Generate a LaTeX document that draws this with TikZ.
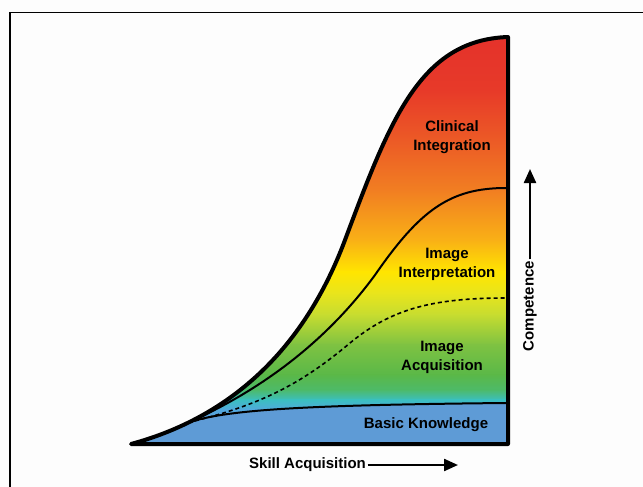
\documentclass[tikz,border=0pt]{standalone}
\usepackage{fontspec}
\setmainfont{Liberation Sans}
\usetikzlibrary{arrows.meta}
\definecolor{bgc}{HTML}{FDFDFD}
\definecolor{gA}{HTML}{E4312B}
\definecolor{gB}{HTML}{E73A29}
\definecolor{gC}{HTML}{EC5A26}
\definecolor{gD}{HTML}{F17E22}
\definecolor{gE}{HTML}{F9B016}
\definecolor{gF}{HTML}{FFE500}
\definecolor{gG}{HTML}{E9E51C}
\definecolor{gH}{HTML}{C6DC30}
\definecolor{gI}{HTML}{7EC242}
\definecolor{gJ}{HTML}{5AB848}
\definecolor{gK}{HTML}{4DBA6A}
\definecolor{gL}{HTML}{3BBFC0}
\definecolor{gM}{HTML}{52A8DE}
\definecolor{basic}{HTML}{5E9BD6}
\tikzset{
  lbl/.style={font=\fontsize{15}{19}\selectfont\bfseries, align=center, text=black, inner sep=1.5pt},
  outerline/.style={line width=4pt, line join=round},
  innerline/.style={line width=2pt},
  dashline/.style={line width=1.6pt, dash pattern=on 4pt off 3pt},
  axisarrow/.style={line width=2.3pt, -{Triangle[length=14pt,width=12pt]}},
  band/.style={draw=none}
}
\begin{document}
\begin{tikzpicture}[x=1pt,y=-1pt]
\useasboundingbox (0,0) rectangle (643,487);
\fill[bgc] (0,0) rectangle (643,487);
\draw[line width=1.5pt] (10,487) -- (10,12.5) -- (643,12.5);

\coordinate (C) at (188.3,422.6);

\begin{scope}
\clip (131,444) .. controls (220,420) and (300,360) .. (345,240)
      .. controls (390,120) and (420,40) .. (508,37) -- (508,444) -- cycle;
\foreach \ya/\yb/\ca/\cb in {30/90/gA/gB, 90/140/gB/gC, 140/190/gC/gD, 190/240/gD/gE,
   240/272/gE/gF, 272/293/gF/gG, 293/315/gG/gH, 315/345/gH/gI, 345/375/gI/gJ,
   375/390/gJ/gK, 390/400/gK/gL, 400/410/gL/gM, 410/420/gM/basic}
  \shade[band, top color=\ca, bottom color=\cb] (120,\ya-0.3) rectangle (520,\yb+0.3);
\fill[basic] (120,419.7) rectangle (520,450);
\fill[basic] (C) .. controls (225,410) and (300,405) .. (506,403) -- (520,403)
   -- (520,450) -- (120,450) -- (120,422.6) -- cycle;
\end{scope}

\draw[innerline] (C) .. controls (225,410) and (300,405) .. (506,403);
\draw[dashline] (C) .. controls (260,405) and (300,385) .. (350,343)
   .. controls (390,310) and (430,298) .. (506,298);
\draw[innerline] (C) .. controls (250,395) and (320,350) .. (375,275)
   .. controls (420,210) and (450,188) .. (506,188);

\draw[outerline] (131,444) .. controls (220,420) and (300,360) .. (345,240)
      .. controls (390,120) and (420,40) .. (508,37) -- (508,444) -- cycle;

\node[lbl] (clin) at (452,137) {Clinical\\Integration};
\node[lbl] (interp) at (447,264) {Image\\Interpretation};
\node[lbl] (acq) at (442,357) {Image\\Acquisition};
\node[lbl] (basicK) at (426,425) {Basic Knowledge};

\node[lbl] (skill) at (307.5,465) {Skill Acquisition};
\coordinate (skillEnd) at (458,465);
\draw[axisarrow] (skill.east) -- (skillEnd);

\node[lbl, rotate=90] (comp) at (530,306) {Competence};
\coordinate (compEnd) at (530,169);
\draw[axisarrow] (comp.east) -- (compEnd);
\end{tikzpicture}
\end{document}
